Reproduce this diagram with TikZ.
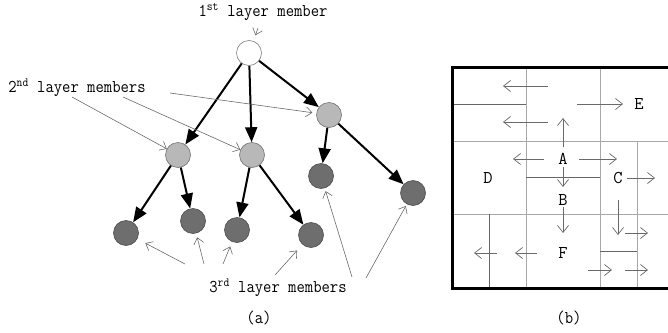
\documentclass[tikz,border=0pt]{standalone}
\usepackage{graphicx}
\usetikzlibrary{arrows.meta}
\definecolor{lightnode}{HTML}{B8B8B8}
\definecolor{darknode}{HTML}{6E6E6E}
\definecolor{lightrule}{HTML}{A8A8A8}
\definecolor{darkrule}{HTML}{666666}
\definecolor{pointer}{HTML}{6A6A6A}
% condensed typewriter text for the captions
\newcommand{\captext}[1]{\scalebox{0.9}[1]{\ttfamily\fontsize{18}{21}\selectfont #1}}
\tikzset{
  member/.style={circle, minimum size=25pt, inner sep=0pt, line width=0.6pt},
  firstm/.style={member, draw=gray, fill=white},
  secondm/.style={member, draw=gray!90!black, fill=lightnode},
  thirdm/.style={member, draw=darknode!70!black, fill=darknode},
  link/.style={line width=2pt, -{Triangle[length=15pt,width=12pt]}},
  pointto/.style={draw=pointer, line width=0.6pt, -{Straight Barb[length=6pt,width=10pt]}},
  caption/.style={inner sep=0pt},
  cellname/.style={font=\ttfamily\fontsize{18}{21}\selectfont, inner sep=1pt},
  move/.style={draw=pointer, line width=0.7pt, -{Straight Barb[length=7pt,width=11pt]}},
  lightline/.style={draw=lightrule, line width=0.8pt},
  darkline/.style={draw=darkrule, line width=0.8pt},
}
\begin{document}
\begin{tikzpicture}[x={(1pt,0)}, y={(0,-1pt)}]
\useasboundingbox (0,0) rectangle (668,332);

% ---------- (a) layered membership tree ----------
\node[firstm]  (r)  at (249,53)  {};
\node[secondm] (m1) at (178,155) {};
\node[secondm] (m2) at (252,155) {};
\node[secondm] (m3) at (329,115) {};
\node[thirdm]  (l1) at (126,233) {};
\node[thirdm]  (l2) at (193,221) {};
\node[thirdm]  (l3) at (237,230) {};
\node[thirdm]  (l4) at (311,235) {};
\node[thirdm]  (l5) at (321,176) {};
\node[thirdm]  (l6) at (413,193) {};

\draw[link] (r) -- (m1);
\draw[link] (r) -- (m2);
\draw[link] (r) -- (m3);
\draw[link] (m1) -- (l1);
\draw[link] (m1) -- (l2);
\draw[link] (m2) -- (l3);
\draw[link] (m2) -- (l4);
\draw[link] (m3) -- (l5);
\draw[link] (m3) -- (l6);

\node[caption] (c1) at (263,12) {\captext{1\textsuperscript{st} layer member}};
\node[caption] (c2) at (77,88)  {\captext{2\textsuperscript{nd} layer members}};
\node[caption] (c3) at (278,288) {\captext{3\textsuperscript{rd} layer members}};
\node[caption] (ca) at (259,318) {\captext{(a)}};

\coordinate (p0) at (258,28);
\coordinate (s1) at (72,97);
\coordinate (s2) at (123,97);
\coordinate (s3) at (170,93);
\coordinate (t1) at (185,264);
\coordinate (t2) at (204,264);
\coordinate (t3) at (223,264);
\coordinate (t4) at (275,275);
\coordinate (t5) at (352,277);
\coordinate (t6) at (366,278);

\draw[pointto, shorten >=6pt] (p0) -- (r);
\draw[pointto] (s1) -- (m1);
\draw[pointto] (s2) -- (m2);
\draw[pointto, shorten >=4pt] (s3) -- (m3);
\draw[pointto, shorten >=9pt] (t1) -- (l1);
\draw[pointto, shorten >=4pt] (t2) -- (l2);
\draw[pointto, shorten >=5pt] (t3) -- (l3);
\draw[pointto, shorten >=8pt] (t4) -- (l4);
\draw[pointto, shorten >=3pt] (t5) -- (l5);
\draw[pointto, shorten >=2pt] (t6) -- (l6);

% ---------- (b) cell partition ----------
% inner cell borders
\draw[lightline] (526,67) -- (526,288);
\draw[lightline] (600,67) -- (600,288);
\draw[lightline] (637,141) -- (637,288);
\draw[lightline] (452,141) -- (670,141);
\draw[lightline] (452,214) -- (670,214);
\draw[darkline] (452,104) -- (526,104);
\draw[darkline] (526,177) -- (600,177);
\draw[darkline] (489,214) -- (489,288);
\draw[darkline] (600,251) -- (637,251);
% outer frame
\draw[line width=3pt] (672,67) -- (452,67) -- (452,288) -- (672,288);

\node[cellname] (A) at (563,159) {A};
\node[cellname] (B) at (563,200) {B};
\node[cellname] (C) at (618,178) {C};
\node[cellname] (D) at (488,178) {D};
\node[cellname] (E) at (639,104) {E};
\node[cellname] (F) at (563,253) {F};

\draw[move] (548,86) -- (503,86);
\draw[move] (548,122) -- (503,122);
\draw[move] (577,104) -- (623,104);
\draw[move] (563,147) -- (563,118);
\draw[move] (544,159) -- (513,159);
\draw[move] (579,159) -- (617,159);
\draw[move] (563,167) -- (563,187);
\draw[move] (627,178) -- (655,178);
\draw[move] (563,207) -- (563,233);
\draw[move] (537,253) -- (515,253);
\draw[move] (497,253) -- (474,253);
\draw[move] (618,200) -- (618,235);
\draw[move] (625,233) -- (648,233);
\draw[move] (588,270) -- (612,270);
\draw[move] (625,270) -- (648,270);

\node[caption] (cb) at (569,318) {\captext{(b)}};
\end{tikzpicture}
\end{document}
